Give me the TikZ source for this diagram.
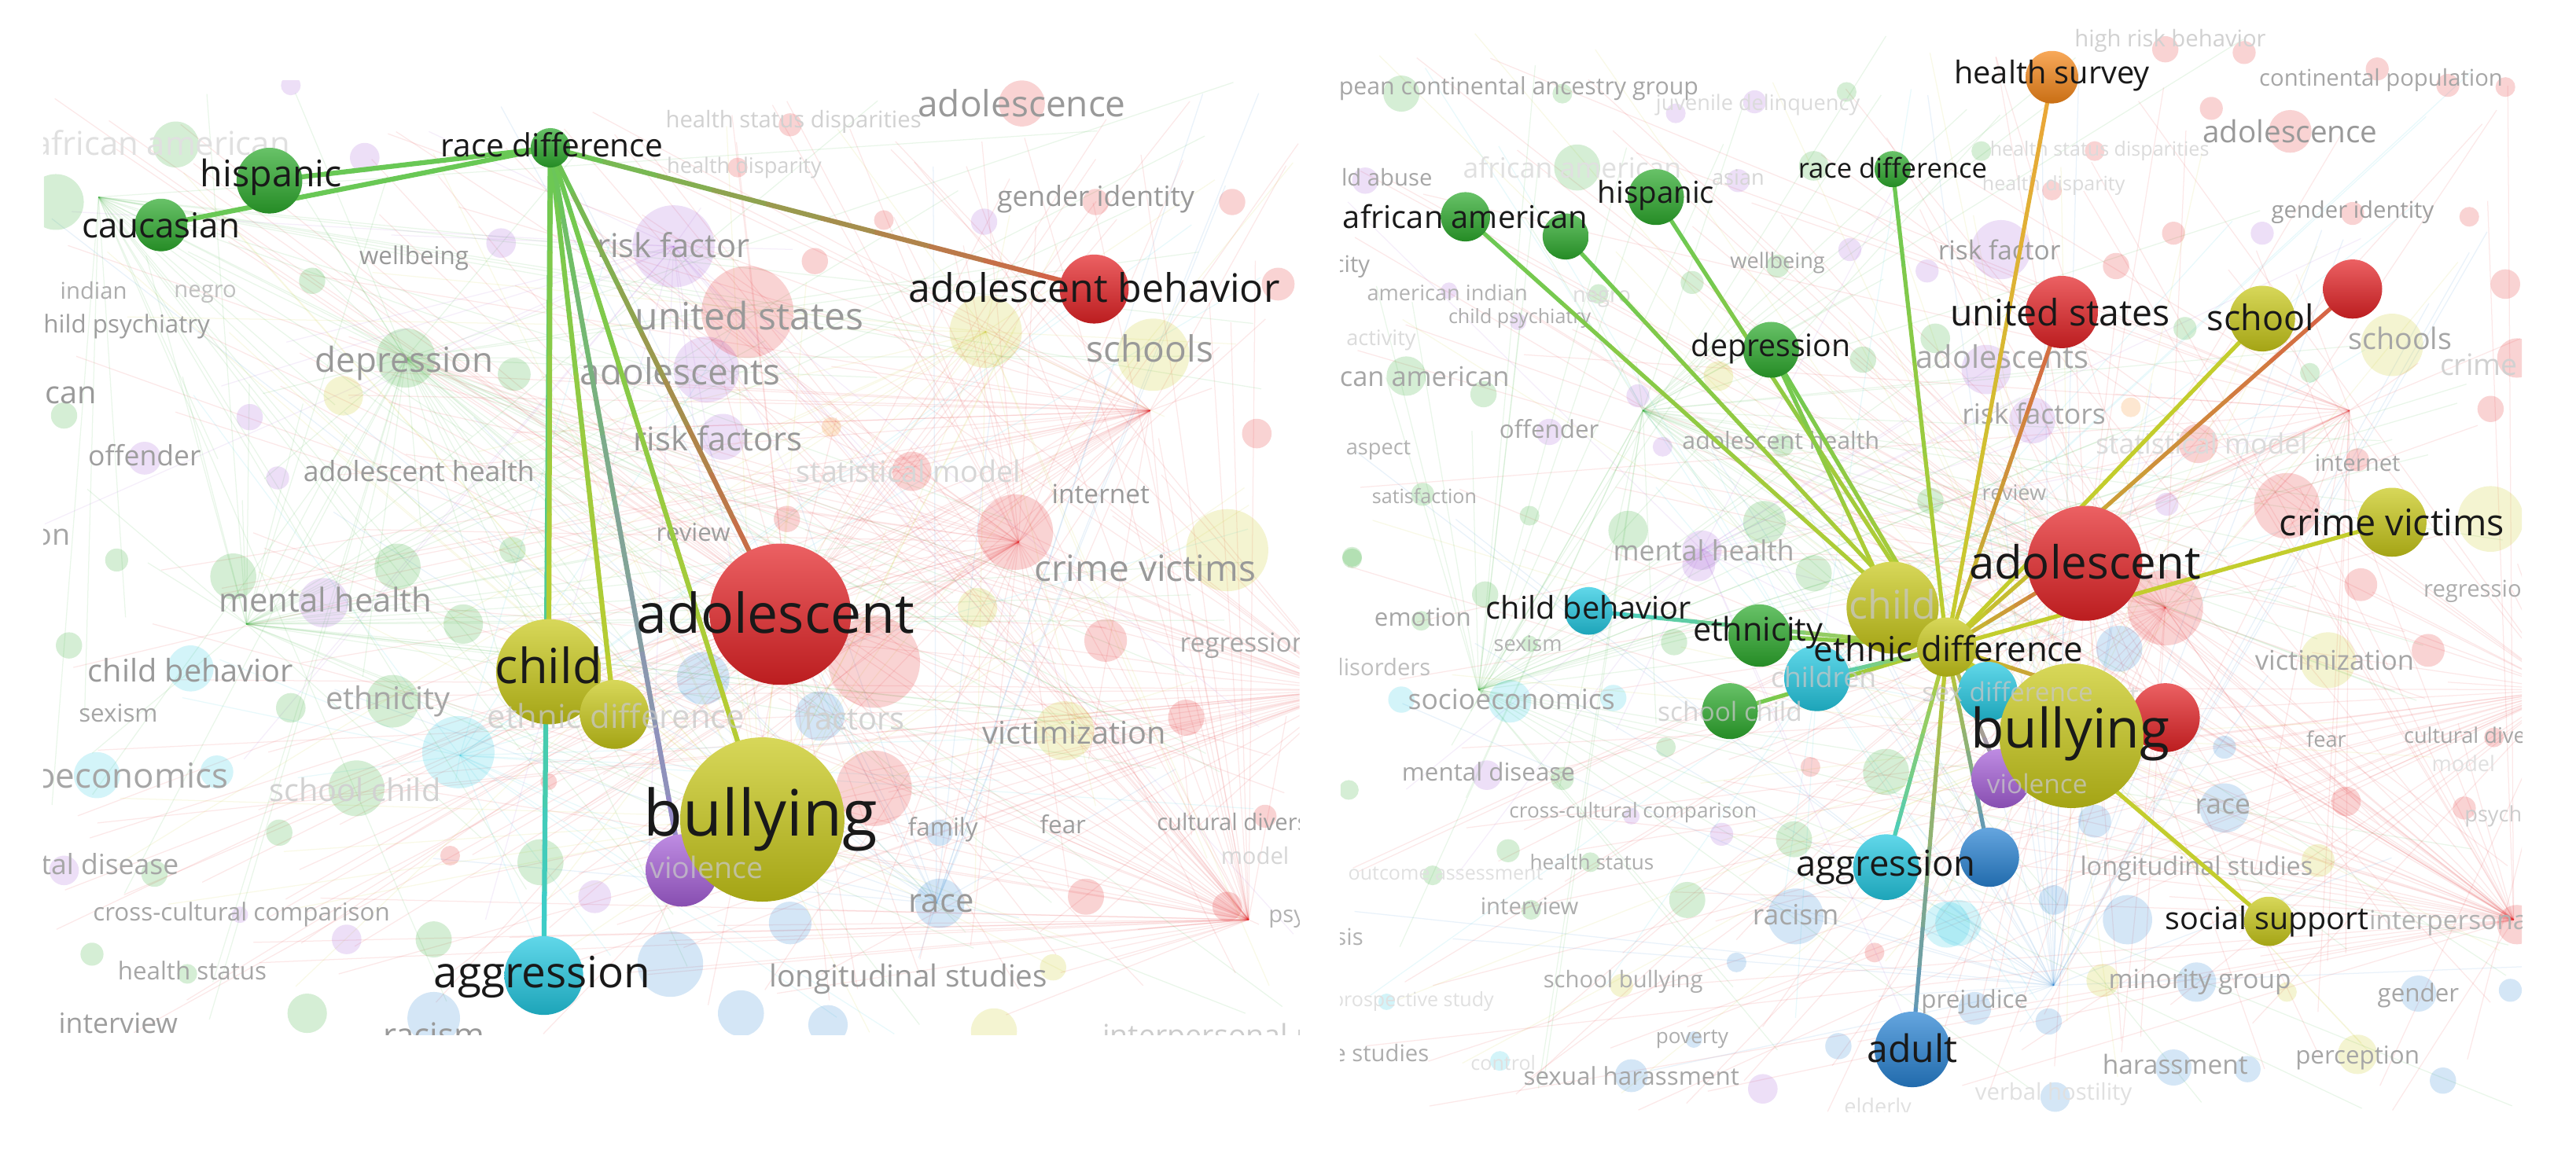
\documentclass[tikz,border=0pt]{standalone}
\usepackage{fontspec}
\setmainfont{Open Sans}
\usetikzlibrary{calc}
\pgfdeclarelayer{bg}
\pgfdeclarelayer{edges}
\pgfsetlayers{bg,edges,main}
\definecolor{cg}{RGB}{45,170,45}
\definecolor{cr}{RGB}{228,35,38}
\definecolor{cy}{RGB}{200,200,25}
\definecolor{cc}{RGB}{35,200,225}
\definecolor{cp}{RGB}{165,95,215}
\definecolor{cb}{RGB}{40,130,210}
\definecolor{co}{RGB}{245,135,25}
\definecolor{eg}{RGB}{105,200,85}
\definecolor{ey}{RGB}{195,205,45}
\definecolor{er}{RGB}{215,95,70}
\definecolor{ec}{RGB}{60,205,205}
\definecolor{ep}{RGB}{150,135,205}
\definecolor{eo}{RGB}{235,165,55}
\definecolor{eb}{RGB}{85,145,200}
\newcommand\fitw[2]{\resizebox{#1pt}{!}{#2}}
\newcommand\gedge[5]{%
  \foreach \ii in {0,...,9}{%
    \pgfmathsetmacro\fa{\ii/10}%
    \pgfmathsetmacro\fb{(\ii+1)/10}%
    \pgfmathtruncatemacro\pc{(\ii+0.5)*10}%
    \draw[line width=#5, line cap=round, color=#4!\pc!#3] ($(#1)!\fa!(#2)$) -- ($(#1)!\fb!(#2)$);
  }}
\tikzset{
  ball/.style={circle, inner sep=0pt, draw=none, top color=#1!72!white, bottom color=#1!82!black},
  lab/.style={inner sep=0pt, text=black!90},
  flab/.style={inner sep=0pt, text=black!22, text opacity=0.75},
}
\begin{document}
\begin{tikzpicture}[x=1pt,y=-1pt]
\useasboundingbox (0,0) rectangle (1568,700);
\begin{pgfonlayer}{bg}
\fill[white] (0,0) rectangle (1568,700);
% ---------- left panel background ----------
\begin{scope}
\clip (26.7,49) rectangle (791,630);
\pgfmathsetseed{17}
\foreach \hx/\hy/\hc/\n in {480/372/cr/50, 620/330/cr/45, 760/560/cr/55, 700/250/cr/40, 820/420/cr/40, 463/498/cy/35, 600/202/cy/20, 247/218/cg/40, 150/380/cg/35, 60/120/cg/25, 410/150/cp/20, 570/550/cb/20, 280/460/cc/20}{
  \foreach \j in {1,...,\n}{
    \pgfmathsetmacro\tx{27+764*rnd}
    \pgfmathsetmacro\ty{49+581*rnd}
    \draw[\hc, opacity=0.1, line width=0.6pt] (\hx,\hy) -- (\tx,\ty);
  }}
\foreach \x/\y/\r/\c in {34/123/17/cg, 107/88/14/cg, 190/171/8/cg, 247/218/18/cg, 313/228/10/cg, 39/253/8/cg, 71/341/7/cg, 142/351/14/cg, 242/345/14/cg, 312/335/8/cg, 282/380/12/cg, 42/393/8/cg, 177/431/9/cg, 239/427/16/cg, 217/480/17/cg, 170/507/8/cg, 329/525/14/cg, 94/532/8/cg, 264/572/11/cg, 56/581/7/cg, 114/593/6/cg, 187/617/12/cg,
177/52/6/cp, 222/96/9/cp, 305/148/9/cp, 410/150/25/cp, 152/254/8/cp, 88/279/10/cp, 169/291/7/cp, 197/367/15/cp, 39/530/9/cp, 146/557/5/cp, 211/572/9/cp, 362/546/10/cp, 430/225/20/cp, 440/266/14/cp, 599/135/8/cp,
116/407/14/cc, 59/472/14/cc, 132/470/10/cc, 279/458/22/cc,
481/76/7/cr, 449/102/6/cr, 538/134/6/cr, 622/63/14/cr, 667/123/8/cr, 750/123/8/cr, 778/173/10/cr, 496/159/8/cr, 455/190/28/cr, 765/264/9/cr, 555/287/12/cr, 479/316/8/cr, 618/324/23/cr, 673/390/13/cr, 532/403/28/cr, 532/480/23/cr, 722/437/11/cr, 661/546/11/cr, 747/552/9/cr, 770/497/7/cr, 274/521/6/cr, 334/476/5/cr,
209/241/12/cy, 600/202/22/cy, 702/216/22/cy, 747/335/25/cy, 648/445/18/cy, 605/628/14/cy, 641/589/8/cy, 595/370/12/cy, 506/260/6/co,
499/436/15/cb, 572/507/8/cb, 572/550/15/cb, 481/562/13/cb, 451/617/14/cb, 408/587/20/cb, 428/413/16/cb, 504/624/12/cb, 264/620/16/cb}
  \fill[\c, opacity=0.2] (\x,\y) circle[radius=\r];
\foreach \x/\y/\fs/\an/\g/\lt [count=\k] in {
622/63/22/center/40/adolescence,
483/74/14/center/18/health status disparities,
453/102/13/center/18/health disparity,
20/87/20/west/12/african american,
667/121/17/center/40/gender identity,
410/149/20/center/40/risk factor,
252/157/15/center/40/wellbeing,
57/177/14/center/32/indian,
125/179/14/center/25/negro,
128/199/15/east/38/child psychiatry,
456/192/23/center/40/united states,
246/221/21/center/40/depression,
700/212/22/center/40/schools,
414/226/22/center/40/adolescents,
59/239/19/east/40/american,
437/267/20/center/40/risk factors,
88/277/17/center/38/offender,
255/287/17/center/40/adolescent health,
553/287/18/center/16/statistical model,
670/301/16/center/40/internet,
422/324/15/center/38/review,
43/325/18/east/35/education,
697/346/22/center/40/crime victims,
198/365/20/center/40/mental health,
116/408/19/center/40/child behavior,
718/393/16/west/35/regression,
72/434/15/center/35/sexism,
236/427/19/center/35/ethnicity,
520/437/19/center/18/factors,
654/446/19/center/40/victimization,
139/472/21/east/35/socioeconomics,
216/481/19/center/18/school child,
574/505/15/center/38/family,
647/502/15/center/38/fear,
704/502/14/west/38/cultural diversity,
743/521/14/west/16/model,
109/526/17/east/35/mental disease,
147/557/15/center/35/cross-cultural comparison,
573/550/20/center/40/race,
117/591/15/center/35/health status,
553/596/18.5/center/40/longitudinal studies,
72/623/17/center/38/interview,
264/630/20/center/40/racism,
772/558/14/west/30/psychology,
671/632/18/west/20/interpersonal relations}
  \node[inner sep=0pt, anchor=\an, text=black!\g, font=\fontsize{\fs}{\fs}\selectfont] (L\k) at (\x,\y) {\lt};
\end{scope}
% ---------- right panel background ----------
\begin{scope}
\clip (816,17) rectangle (1535,677);
\pgfmathsetseed{29}
\foreach \hx/\hy/\hc/\n in {1270/343/cr/50, 1318/370/cr/35, 1530/560/cr/45, 1430/250/cr/30, 1560/420/cr/35, 1261/448/cy/40, 1000/250/cg/40, 900/420/cg/35, 1250/600/cb/35, 1106/413/cc/20, 1036/335/cp/15}{
  \foreach \j in {1,...,\n}{
    \pgfmathsetmacro\tx{816+719*rnd}
    \pgfmathsetmacro\ty{17+660*rnd}
    \draw[\hc, opacity=0.1, line width=0.6pt] (\hx,\hy) -- (\tx,\ty);
  }}
\foreach \x/\y/\r/\c in {853/57/11/cg, 951/57/6/cg, 1020/69/6/cp, 1068/62/7/cp, 1124/56/6/cg, 831/110/8/cp, 960/102/14/cg, 1058/110/7/cp, 1104/101/9/cg, 1126/152/7/cp, 1173/165/7/cp, 1030/172/7/cg, 1082/162/7/cg, 882/177/5/cp, 924/196/5/cp, 973/179/6/cg, 856/229/12/cg, 903/240/8/cg, 1046/229/9/cy, 997/241/7/cp, 1134/219/8/cg, 1178/206/9/cg, 943/263/8/cp, 1012/272/6/cp, 1085/271/7/cg, 931/314/6/cg, 866/301/7/cg, 991/323/12/cg, 1074/318/13/cg, 1036/335/12/cp, 823/339/6/cg, 1175/305/8/cg,
1318/30/8/cr, 1366/32/7/cr, 1447/42/7/cr, 1490/52/7/cr, 1525/53/6/cr, 1346/66/7/cr, 1394/80/13/cr, 1206/92/6/cg, 1275/92/6/cr, 1249/116/6/cr, 1432/130/7/cr, 1503/132/6/cr, 1377/142/7/cp, 1323/142/7/cr, 1218/152/18/cp, 1288/162/8/cr, 1525/173/9/cr, 1330/200/7/cg, 1456/210/19/cy, 1532/218/12/cr, 1209/225/15/cp, 1406/227/6/cg, 1297/248/6/co, 1237/256/14/cp, 1516/249/8/cr, 1338/270/12/cr, 1435/280/7/cr, 1319/307/7/cp, 1392/308/20/cr, 1516/316/20/cy,
1437/356/10/cr, 1318/370/23/cr, 1290/395/14/cb, 1417/402/17/cy, 1478/396/10/cr, 1354/455/7/cb, 1518/449/6/cr, 1354/492/15/cb, 1428/488/9/cr, 1500/492/7/cr, 1275/500/10/cb, 1411/524/10/cy, 1250/548/9/cb, 1295/560/15/cb, 1532/563/12/cr, 1280/597/10/cy, 1337/598/12/cb, 1392/604/6/cy, 1472/605/11/cb, 1528/603/7/cb, 1202/614/10/cb, 1247/622/8/cb, 1435/642/12/cy, 1323/650/11/cb, 1368/651/8/cb, 1487/658/8/cb, 1251/668/9/cb, 1192/562/14/cc,
823/340/6/cg, 1034/344/10/cp, 1104/349/11/cg, 904/362/8/cg, 865/378/6/cg, 931/392/5/cg, 1019/391/8/cg, 853/426/8/cc, 919/427/13/cc, 982/425/8/cc, 1014/455/6/cg, 1102/467/6/cr, 1148/470/14/cg, 905/472/9/cp, 951/474/7/cg, 821/481/6/cg, 993/497/5/cp, 1048/508/7/cp, 1092/511/11/cg, 918/518/7/cg, 872/533/6/cg, 968/525/6/cg, 1027/548/11/cg, 1093/558/17/cb, 932/554/6/cg, 1141/580/6/cr, 1057/586/6/cb, 987/600/7/cy, 844/610/5/cc, 1119/637/8/cb, 1031/633/5/cb, 913/646/6/cc, 993/655/10/cb, 1073/663/9/cp, 1185/563/14/cc}
  \fill[\c, opacity=0.2] (\x,\y) circle[radius=\r];
\foreach \x/\y/\fs/\an/\g/\lt [count=\k] in {
1321/25/14/center/18/high risk behavior,
1375/49/14/west/35/continental population,
1034/54/14.5/east/35/european continental ancestry group,
1070/64/13/center/14/juvenile delinquency,
1394/80/18.5/center/40/adolescence,
872/108/14/east/35/child abuse,
957/102/17/center/12/african american,
1058/108/13/center/16/asian,
1278/92/12/center/14/health status disparities,
1250/113/12/center/14/health disparity,
1432/129/14/center/38/gender identity,
834/162/14/east/35/ethnicity,
1082/160/13/center/35/wellbeing,
1217/152/16/center/38/risk factor,
881/178/13/center/30/american indian,
975/182/13/center/14/negro,
925/194/12/center/32/child psychiatry,
862/207/13/east/14/activity,
919/229/16.5/east/35/african american,
1461/206/18/center/35/schools,
1485/222/18/west/18/crime,
1219/217/19/center/35/adolescents,
1238/252/17/center/35/risk factors,
943/261/15/center/35/offender,
1084/268/14.5/center/35/adolescent health,
1340/270/17/center/14/statistical model,
859/274/13/east/30/aspect,
1435/282/14/center/35/internet,
867/302/12/center/32/satisfaction,
1226/300/13/center/32/review,
1037/335/17/center/35/mental health,
1475/360/14/west/32/regression,
866/376/15/center/35/emotion,
930/392/13/center/30/sexism,
871/406/14/east/25/disorders,
920/426/17/center/35/socioeconomics,
1300/423/16/center/14/factors,
1421/402/16.5/center/35/victimization,
1416/450/13/center/35/fear,
1463/449/13/west/35/cultural diversity,
1480/465/13/west/12/model,
906/470/15/center/35/mental disease,
1500/497/13/west/20/psychology,
1353/491/17/center/35/race,
994/495/12.5/center/32/cross-cultural comparison,
969/525/12.5/center/32/health status,
880/532/12/center/12/outcome assessment,
1337/529/15.5/center/35/longitudinal studies,
931/552/14/center/32/interview,
1093/557/17/center/35/racism,
830/572/14/east/30/analysis,
1442/562/16/west/30/interpersonal relations,
988/598/14/center/32/school bullying,
860/610/12/center/12/prospective study,
1339/598/16/center/35/minority group,
1472/606/15/center/35/gender,
1202/610/15/center/35/prejudice,
870/641/14/east/32/case studies,
915/647/12/center/12/control,
1030/633/12.5/center/32/poverty,
1324/648/16/center/35/harassment,
1435/644/15/center/35/perception,
993/655/15/center/35/sexual harassment,
1250/666/14/center/12/verbal hostility,
1143/675/13/center/12/elderly}
  \node[inner sep=0pt, anchor=\an, text=black!\g, font=\fontsize{\fs}{\fs}\selectfont] (R\k) at (\x,\y) {\lt};
\end{scope}
\end{pgfonlayer}

% ---------- left highlighted nodes ----------
\node[ball=cg, minimum size=24pt] (Lrd) at (335,90) {};
\node[ball=cg, minimum size=40pt] (Lhis) at (164,110) {};
\node[ball=cg, minimum size=32pt] (Lcau) at (98,137) {};
\node[ball=cr, minimum size=42pt] (Lab) at (666,176) {};
\node[ball=cr, minimum size=86pt] (Ladol) at (475,374) {};
\node[ball=cy, minimum size=64pt] (Lchild) at (334,409) {};
\node[ball=cy, minimum size=42pt] (Led) at (374,435) {};
\node[ball=cp, minimum size=44pt] (Lvio) at (415,530) {};
\node[ball=cy, minimum size=100pt] (Lbul) at (464,499) {};
\node[ball=cc, minimum size=48pt] (Lagg) at (331,594) {};

% ---------- right highlighted nodes ----------
\node[ball=co, minimum size=32pt] (Rhs) at (1249,47) {};
\node[ball=cg, minimum size=22pt] (Rrd) at (1152,103) {};
\node[ball=cg, minimum size=34pt] (Rhis) at (1008,120) {};
\node[ball=cg, minimum size=30pt] (Raa) at (892,132) {};
\node[ball=cg, minimum size=28pt] (Rg2) at (953,144) {};
\node[ball=cg, minimum size=34pt] (Rdep) at (1078,213) {};
\node[ball=cr, minimum size=44pt] (Rus) at (1255,190) {};
\node[ball=cy, minimum size=40pt] (Rsch) at (1377,194) {};
\node[ball=cr, minimum size=36pt] (Rr1) at (1432,176) {};
\node[ball=cy, minimum size=42pt] (Rcv) at (1456,318) {};
\node[ball=cr, minimum size=70pt] (Radol) at (1269,343) {};
\node[ball=cy, minimum size=56pt] (Rchild) at (1152,370) {};
\node[ball=cc, minimum size=29pt] (Rcb) at (967,372) {};
\node[ball=cg, minimum size=38pt] (Reth) at (1071,387) {};
\node[ball=cg, minimum size=34pt] (Rsc) at (1053,433) {};
\node[ball=cc, minimum size=40pt] (Rcy1) at (1106,413) {};
\node[ball=cy, minimum size=36pt] (Red) at (1185,394) {};
\node[ball=cc, minimum size=36pt] (Rcy2) at (1210,421) {};
\node[ball=cr, minimum size=42pt] (Rr2) at (1318,437) {};
\node[ball=cp, minimum size=36pt] (Rpur) at (1218,474) {};
\node[ball=cy, minimum size=88pt] (Rbul) at (1261,448) {};
\node[ball=cb, minimum size=36pt] (Rblu) at (1211,522) {};
\node[ball=cc, minimum size=40pt] (Ragg) at (1148,528) {};
\node[ball=cy, minimum size=30pt] (Rss) at (1381,561) {};
\node[ball=cb, minimum size=46pt] (Radult) at (1164,639) {};

% ---------- connectors ----------
\begin{pgfonlayer}{edges}
\gedge{Lrd}{Lhis}{eg}{eg}{3pt}
\gedge{Lrd}{Lcau}{eg}{eg}{3pt}
\gedge{Lrd}{Lab}{eg}{er}{3pt}
\gedge{Lrd}{Lagg}{eg}{ec}{3pt}
\gedge{Lrd}{Lchild}{eg}{ey}{3pt}
\gedge{Lrd}{Led}{eg}{ey}{3pt}
\gedge{Lrd}{Lvio}{eg}{ep}{3pt}
\gedge{Lrd}{Lbul}{eg}{ey}{3pt}
\gedge{Lrd}{Ladol}{eg}{er}{3pt}
\gedge{Red}{Rhs}{ey}{eo}{2.5pt}
\gedge{Red}{Rrd}{ey}{eg}{2.5pt}
\gedge{Red}{Rhis}{ey}{eg}{2.5pt}
\gedge{Red}{Raa}{ey}{eg}{2.5pt}
\gedge{Red}{Rg2}{ey}{eg}{2.5pt}
\gedge{Red}{Rdep}{ey}{eg}{2.5pt}
\gedge{Rchild}{Rdep}{ey}{eg}{2.5pt}
\gedge{Red}{Rus}{ey}{er}{2.5pt}
\gedge{Red}{Rsch}{ey}{ey}{2.5pt}
\gedge{Red}{Rr1}{ey}{er}{2.5pt}
\gedge{Red}{Rcv}{ey}{ey}{2.5pt}
\gedge{Red}{Radol}{ey}{er}{2.5pt}
\gedge{Red}{Rchild}{ey}{ey}{2.5pt}
\gedge{Red}{Rcb}{ey}{ec}{2.5pt}
\gedge{Red}{Reth}{ey}{eg}{2.5pt}
\gedge{Red}{Rsc}{ey}{eg}{2.5pt}
\gedge{Red}{Rcy1}{ey}{ec}{2.5pt}
\gedge{Red}{Rcy2}{ey}{ec}{2.5pt}
\gedge{Red}{Ragg}{ey}{ec}{2.5pt}
\gedge{Red}{Radult}{ey}{eb}{2.5pt}
\gedge{Red}{Rbul}{ey}{ey}{2.5pt}
\gedge{Red}{Rss}{ey}{ey}{2.5pt}
\gedge{Red}{Rr2}{ey}{er}{2.5pt}
\gedge{Red}{Rpur}{ey}{ep}{2.5pt}
\gedge{Red}{Rblu}{ey}{eb}{2.5pt}
\end{pgfonlayer}

% ---------- faint labels over nodes ----------
\node[flab, font=\fontsize{20}{20}\selectfont] (Lf1) at (375,436) {ethnic difference};
\node[flab, font=\fontsize{18}{18}\selectfont] (Lf2) at (430,528) {violence};
\node[flab, font=\fontsize{24}{24}\selectfont] (Rf1) at (1152,368) {child};
\node[flab, font=\fontsize{16}{16}\selectfont] (Rf2) at (1053,433) {school child};
\node[flab, font=\fontsize{17}{17}\selectfont] (Rf3) at (1110,412) {children};
\node[flab, font=\fontsize{16}{16}\selectfont] (Rf4) at (1222,421) {sex difference};
\node[flab, font=\fontsize{16}{16}\selectfont] (Rf5) at (1240,477) {violence};

% ---------- labels ----------
\node[lab] (Lrd-l) at (336,88) {\fitw{135}{race difference}};
\node[lab] (Lhis-l) at (165,108) {\fitw{86}{hispanic}};
\node[lab] (Lcau-l) at (98,137) {\fitw{96}{caucasian}};
\node[lab] (Lab-l) at (666,175) {\fitw{226}{adolescent behavior}};
\node[lab] (Ladol-l) at (472,373) {\fitw{169}{adolescent}};
\node[lab] (Lchild-l) at (334,405) {\fitw{65}{child}};
\node[lab] (Lbul-l) at (463,499) {\fitw{142}{bullying}};
\node[lab] (Lagg-l) at (330,595) {\fitw{132}{aggression}};

\node[lab] (Rhs-l) at (1249,46) {\fitw{119}{health survey}};
\node[lab] (Rrd-l) at (1152,102) {\fitw{115}{race difference}};
\node[lab] (Rhis-l) at (1008,119) {\fitw{71}{hispanic}};
\node[lab] (Raa-l) at (892,132) {\fitw{149}{african american}};
\node[lab] (Rdep-l) at (1078,212) {\fitw{97}{depression}};
\node[lab] (Rus-l) at (1254,190) {\fitw{134}{united states}};
\node[lab] (Rsch-l) at (1376,193) {\fitw{65}{school}};
\node[lab] (Rcv-l) at (1456,318) {\fitw{137}{crime victims}};
\node[lab] (Radol-l) at (1269,342) {\fitw{141}{adolescent}};
\node[lab] (Red-l) at (1186,395) {\fitw{164}{ethnic difference}};
\node[lab] (Rbul-l) at (1260,447) {\fitw{121}{bullying}};
\node[lab] (Rcb-l) at (967,370) {\fitw{125}{child behavior}};
\node[lab] (Reth-l) at (1070,385) {\fitw{79}{ethnicity}};
\node[lab] (Ragg-l) at (1148,528) {\fitw{109}{aggression}};
\node[lab] (Radult-l) at (1164,638) {\fitw{55}{adult}};
\node[lab] (Rss-l) at (1380,561) {\fitw{124}{social support}};
\end{tikzpicture}
\end{document}
